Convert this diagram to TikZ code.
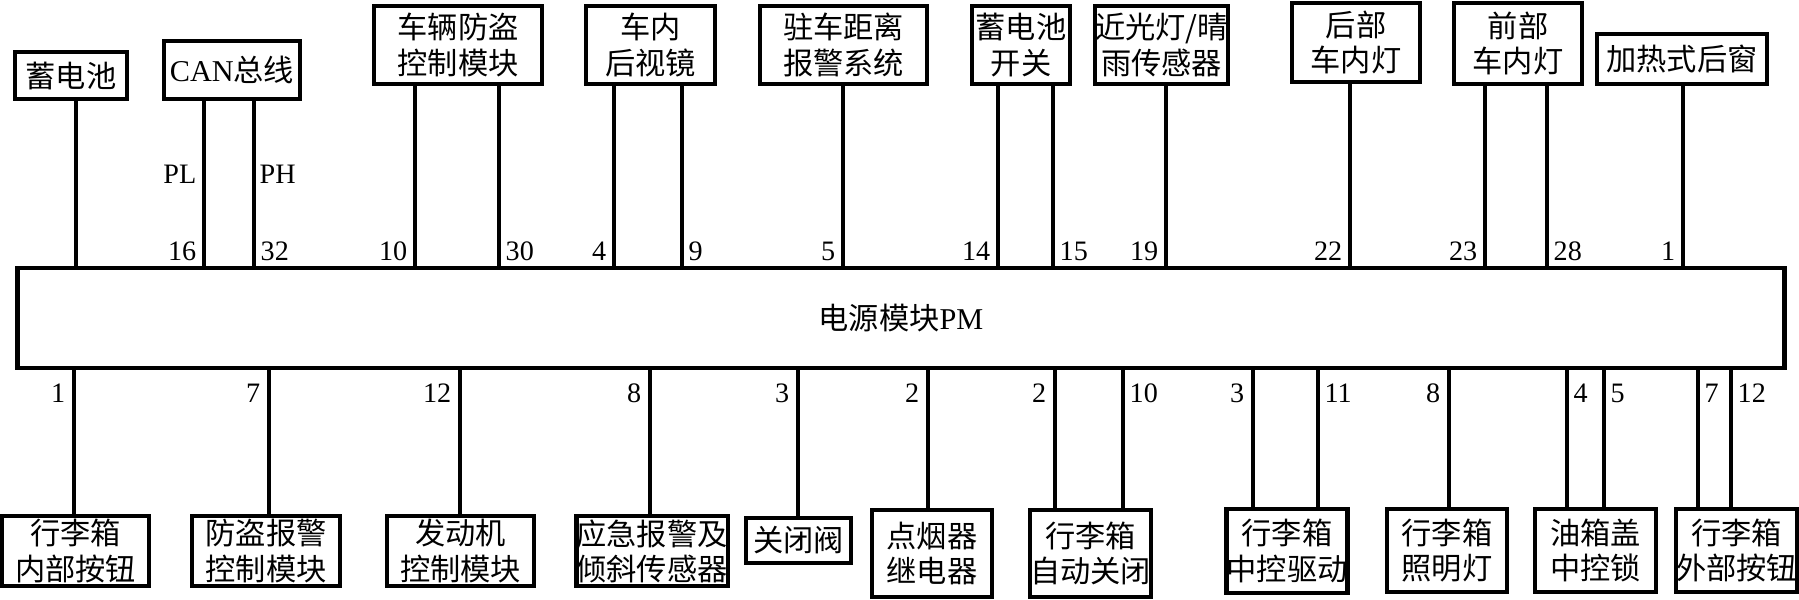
\documentclass[tikz,border=0pt]{standalone}
\usepackage{fontspec}
\setmainfont{Liberation Serif}
\newfontfamily\cjk{Noto Sans CJK SC}
\usepackage{tikz}
\usetikzlibrary{positioning}

\begin{document}
\begin{tikzpicture}[
    x=0.01cm, y=-0.01cm,
    unit/.style={rectangle, draw, line width=1.2pt, inner sep=0pt, align=center, font=\cjk\fontsize{8.6}{10}\selectfont},
    pmbox/.style={unit, minimum width=17.66cm, minimum height=1.0cm},
    wire/.style={line width=1pt},
    pinno/.style={inner sep=0pt, font=\fontsize{8}{9}\selectfont}
]
    \useasboundingbox (0,0) rectangle (1799,599);

    % --- POWER MODULE ---
    \node[pmbox] (pm) at (901, 318) {电源模块{\rmfamily PM}};

    % --- TOP UNITS ---
    \node[unit, minimum width=1.12cm, minimum height=0.47cm] (bat) at (71, 75.5) {蓄电池};
    \node[unit, minimum width=1.36cm, minimum height=0.58cm] (can) at (232, 70) {{\rmfamily CAN}总线};
    \node[unit, minimum width=1.68cm, minimum height=0.78cm] (immo) at (458, 45) {车辆防盗\\控制模块};
    \node[unit, minimum width=1.29cm, minimum height=0.78cm] (mirror) at (650.5, 45) {车内\\后视镜};
    \node[unit, minimum width=1.67cm, minimum height=0.78cm] (pdc) at (843.5, 45) {驻车距离\\报警系统};
    \node[unit, minimum width=0.98cm, minimum height=0.78cm] (batsw) at (1021, 45) {蓄电池\\开关};
    \node[unit, minimum width=1.29cm, minimum height=0.78cm] (rain) at (1161.5, 45) {近光灯/晴\\雨传感器};
    \node[unit, minimum width=1.28cm, minimum height=0.79cm] (rlamp) at (1356, 42.5) {后部\\车内灯};
    \node[unit, minimum width=1.28cm, minimum height=0.81cm] (flamp) at (1518, 43.5) {前部\\车内灯};
    \node[unit, minimum width=1.70cm, minimum height=0.50cm] (heat) at (1682, 59) {加热式后窗};

    \foreach \x/\b in {76/bat, 204/can, 254/can, 415/immo, 499/immo, 614/mirror, 682/mirror,
        843/pdc, 998/batsw, 1053/batsw, 1166/rain, 1350/rlamp, 1485/flamp, 1547/flamp, 1683/heat} {
        \draw[wire] (\b.south -| \x,0) -- (pm.north -| \x,0);
    }

    \node[pinno, anchor=base east] (pl) at (197, 183) {PL};
    \node[pinno, anchor=base west] (ph) at (259, 183) {PH};

    \foreach \x/\t in {204/16, 415/10, 614/4, 843/5, 998/14, 1166/19, 1350/22, 1485/23, 1683/1} {
        \node[pinno, anchor=base east] (t\x) at (\x-7, 260) {\t};
    }
    \foreach \x/\t in {254/32, 499/30, 682/9, 1053/15, 1547/28} {
        \node[pinno, anchor=base west] (t\x) at (\x+6, 260) {\t};
    }

    % --- BOTTOM UNITS ---
    \node[unit, minimum width=1.47cm, minimum height=0.70cm] (kin) at (75.5, 551) {行李箱\\内部按钮};
    \node[unit, minimum width=1.48cm, minimum height=0.70cm] (alarm) at (266, 551) {防盗报警\\控制模块};
    \node[unit, minimum width=1.47cm, minimum height=0.70cm] (ecm) at (460.5, 551) {发动机\\控制模块};
    \node[unit, minimum width=1.50cm, minimum height=0.70cm] (tilt) at (652, 551) {应急报警及\\倾斜传感器};
    \node[unit, minimum width=1.05cm, minimum height=0.45cm] (valve) at (798.5, 540.5) {关闭阀};
    \node[unit, minimum width=1.20cm, minimum height=0.87cm] (cig) at (932, 553.5) {点烟器\\继电器};
    \node[unit, minimum width=1.21cm, minimum height=0.87cm] (tclose) at (1090.5, 553.5) {行李箱\\自动关闭};
    \node[unit, minimum width=1.18cm, minimum height=0.84cm] (tdrive) at (1287, 551) {行李箱\\中控驱动};
    \node[unit, minimum width=1.20cm, minimum height=0.83cm] (tlight) at (1447, 550.5) {行李箱\\照明灯};
    \node[unit, minimum width=1.21cm, minimum height=0.83cm] (flap) at (1595.5, 550.5) {油箱盖\\中控锁};
    \node[unit, minimum width=1.19cm, minimum height=0.83cm] (kout) at (1736.5, 550.5) {行李箱\\外部按钮};

    \foreach \x/\b in {74/kin, 269/alarm, 460/ecm, 650/tilt, 798/valve, 928/cig, 1055/tclose, 1123/tclose,
        1253/tdrive, 1318/tdrive, 1449/tlight, 1567/flap, 1604/flap, 1698/kout, 1731/kout} {
        \draw[wire] (pm.south -| \x,0) -- (\b.north -| \x,0);
    }

    \foreach \x/\t in {74/1, 269/7, 460/12, 650/8, 798/3, 928/2, 1055/2, 1253/3, 1449/8} {
        \node[pinno, anchor=base east] (b\x) at (\x-8, 402) {\t};
    }
    \foreach \x/\t in {1123/10, 1318/11, 1567/4, 1604/5, 1698/7, 1731/12} {
        \node[pinno, anchor=base west] (b\x) at (\x+6, 402) {\t};
    }

\end{tikzpicture}
\end{document}
